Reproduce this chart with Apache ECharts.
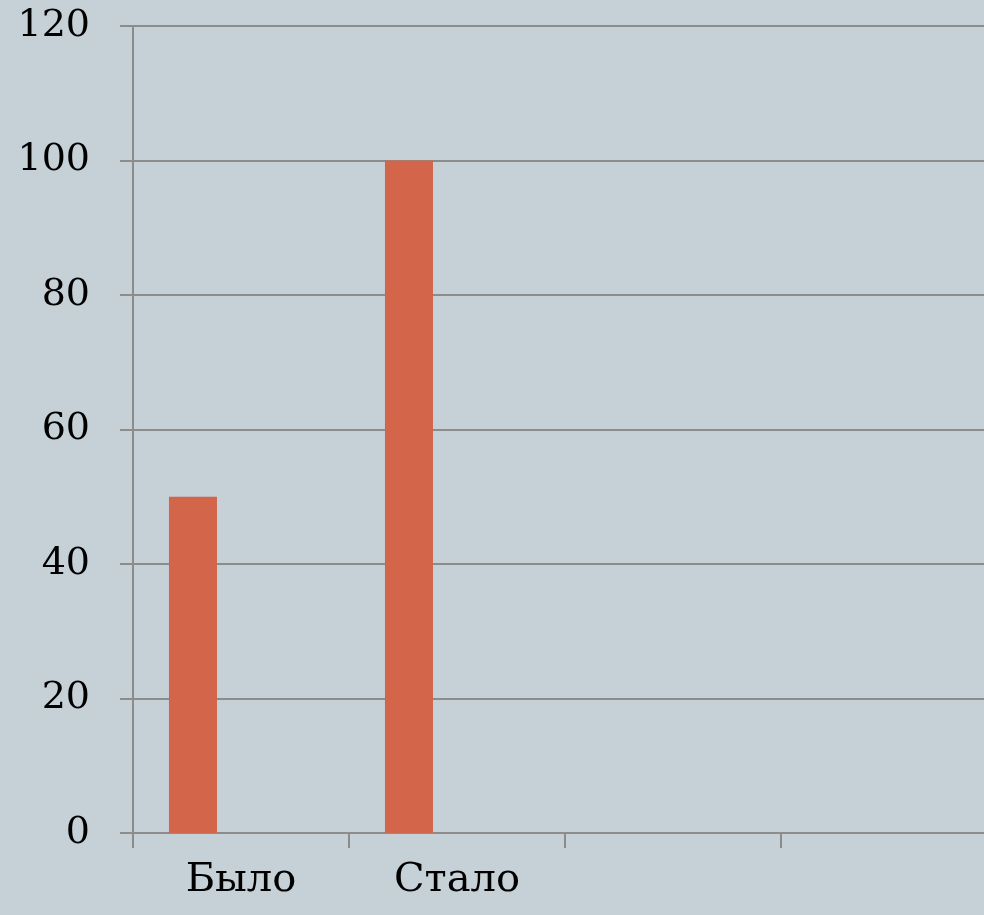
<!DOCTYPE html>
<html>
<head>
<meta charset="utf-8">
<script src="https://cdn.jsdelivr.net/npm/echarts@6/dist/echarts.min.js"></script>
<style>
html,body{margin:0;padding:0;background:#c5d1d7;overflow:hidden;}
#main{width:997px;height:915px;}
</style>
</head>
<body>
<div id="main"></div>
<script>
// данные графика
var categories = ['Было', 'Стало', '', ''];
var series1 = [50, 100, null, null];
var series2 = [null, null, null, null];	//пустой ряд
var series3 = [null, null, null, null];	//пустой ряд
var yTicks = [0, 20, 40, 60, 80, 100, 120];

var lineColor = '#8c8c8c';
var fontName = 'DejaVu Serif';

// график шире окна, правый край обрезан как на исходной картинке
var myChart = echarts.init(document.getElementById('main'));
var option = {
	backgroundColor: '#c5d1d7',
	animation: false,
	grid: {left: 133, right: 0, top: 26, bottom: 82},
	xAxis: {
		type: 'category',
		data: categories,
		axisLine: {lineStyle: {color: lineColor, width: 2}},
		axisTick: {show: true, length: 15, lineStyle: {color: lineColor, width: 2}},
		axisLabel: {color: '#000', fontFamily: fontName, fontSize: 40, margin: 28}
	},
	yAxis: {
		type: 'value',
		min: yTicks[0],
		max: yTicks[yTicks.length - 1],
		interval: 20,
		axisLine: {show: true, lineStyle: {color: lineColor, width: 2}},
		axisTick: {show: true, length: 13, lineStyle: {color: lineColor, width: 2}},
		axisLabel: {color: '#000', fontFamily: fontName, fontSize: 38, margin: 43, padding: [6, 0, 0, 0]},
		splitLine: {lineStyle: {color: lineColor, width: 2}}
	},
	series: [
		{name: 'Ряд 1', type: 'bar', data: series1, barGap: 0, barCategoryGap: '33.3%', itemStyle: {color: '#d2654a'}},
		{name: 'Ряд 2', type: 'bar', data: series2, barGap: 0, barCategoryGap: '33.3%'},
		{name: 'Ряд 3', type: 'bar', data: series3, barGap: 0, barCategoryGap: '33.3%'}
	]
};
myChart.setOption(option);
</script>
</body>
</html>
